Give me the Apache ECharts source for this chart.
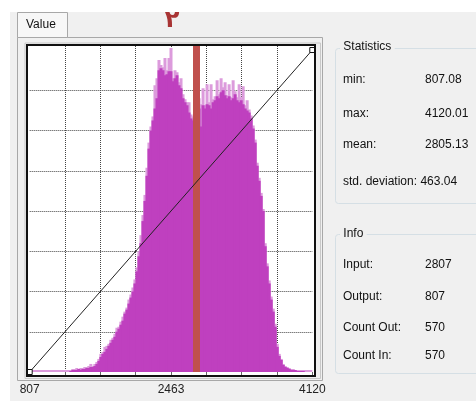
<!DOCTYPE html>
<html>
<head>
<meta charset="utf-8">
<script src="https://cdn.jsdelivr.net/npm/echarts@6/dist/echarts.min.js"></script>
<style>
  html, body { margin: 0; padding: 0; background: #fff; }
  #chart { width: 476px; height: 401px; }
</style>
</head>
<body>
<div id="chart"></div>
<script>
// histogram bins between min and max value (dark = fill, light = spike tops)
const darkCounts = [
  0, 0, 0, 0, 0, 0, 0, 0, 0, 0, 0, 0, 0, 0, 0, 0, 0, 0, 0, 0,
  1, 2, 2, 2, 3, 2, 3, 3, 4, 4, 5, 5, 6, 8, 11, 15, 18, 20, 23, 26,
  29, 32, 35, 40, 43, 47, 51, 58, 62, 68, 74, 80, 88, 100, 115, 128, 150, 170, 195, 222,
  240, 250, 262, 272, 300, 302, 300, 295, 296, 299, 299, 289, 292, 295, 285, 282, 272, 268, 265, 258,
  252, 250, 258, 260, 262, 244, 265, 262, 266, 265, 262, 268, 270, 274, 272, 278, 280, 275, 272, 274,
  270, 272, 276, 270, 268, 270, 266, 262, 260, 258, 252, 242, 228, 205, 190, 175, 160, 125, 105, 88,
  72, 60, 45, 25, 16, 12, 7, 5, 4, 3, 2, 2, 2, 1, 1, 1, 1, 0, 0, 0, 0
];
const lightCounts = [
  2, 2, 2, 2, 2, 2, 2, 2, 2, 2, 2, 2, 2, 2, 2, 2, 2, 2, 2, 2,
  2, 3, 3, 4, 3, 4, 4, 5, 5, 6, 8, 6, 8, 10, 13, 18, 20, 25, 26, 28,
  32, 34, 38, 44, 45, 50, 55, 60, 64, 72, 77, 84, 92, 104, 120, 136, 156, 176, 203, 228,
  244, 254, 285, 292, 310, 305, 303, 312, 300, 312, 322, 292, 300, 298, 288, 292, 276, 271, 268, 268,
  256, 254, 262, 264, 272, 266, 282, 265, 286, 268, 286, 271, 274, 290, 276, 292, 283, 288, 275, 286,
  273, 290, 279, 273, 286, 273, 284, 265, 270, 261, 255, 245, 231, 208, 193, 178, 162, 128, 108, 91,
  75, 63, 48, 28, 18, 13, 8, 6, 5, 4, 3, 3, 2, 2, 2, 2, 2, 2, 2, 2, 2
];
const binIndex = darkCounts.map((_, i) => i);

const xMin = 807.08;
const xMax = 4120.01;
const xTickLabels = ['807', '', '', '', '2463', '', '', '', '4120'];
const mappingLine = [[807.08, 0], [4120.01, 320]];
const inputMarker = 2756;

const statLabels = ['min:', 'max:', 'mean:'];
const statValues = ['807.08', '4120.01', '2805.13'];
const stdLabel = 'std. deviation: 463.04';
const infoLabels = ['Input:', 'Output:', 'Count Out:', 'Count In:'];
const infoValues = ['2807', '807', '570', '570'];

const FONT = '"Liberation Sans", Arial, sans-serif';
const xGridColors = ['rgba(0,0,0,0)', '#444', '#444', '#444', '#444', '#444', '#444', '#444', 'rgba(0,0,0,0)'];
const yGridColors = ['rgba(0,0,0,0)', '#444', '#444', '#444', '#444', '#444', '#444', '#444', 'rgba(0,0,0,0)', 'rgba(0,0,0,0)'];

const txt = (x, y, text, extra) => Object.assign({
  type: 'text', x: x, y: y, z: 20,
  style: { text: text, font: '12px ' + FONT, fill: '#111', verticalAlign: 'middle' }
}, extra || {});

const graphics = [
  // window background
  { type: 'rect', shape: { x: 10, y: 12, width: 466, height: 389 }, style: { fill: '#f0f0f0' }, z: -20 },
  // tab page
  { type: 'rect', shape: { x: 17.5, y: 37.5, width: 305, height: 343 }, style: { fill: '#f0f0f0', stroke: '#a8a8a8', lineWidth: 1 }, z: -19 },
  { type: 'rect', shape: { x: 17.5, y: 12.5, width: 50, height: 25 }, style: { fill: '#f7f7f7', stroke: '#a8a8a8', lineWidth: 1 }, z: -18 },
  txt(26, 25, 'Value'),
  // plot frame
  { type: 'rect', shape: { x: 27, y: 45, width: 288, height: 331 }, style: { fill: '#fff' }, z: -17 },
  { type: 'rect', shape: { x: 27, y: 45, width: 288, height: 331 }, style: { fill: 'none', stroke: '#111', lineWidth: 2 }, z: 30 },
  { type: 'rect', shape: { x: 25, y: 43, width: 295.5, height: 335.5 }, style: { fill: 'none', stroke: '#c8c8c8', lineWidth: 1 }, z: 29 },
  // red mark above the plot
  { type: 'text', x: 172, y: 21, z: 20, style: { text: '۲', font: 'bold 24px "DejaVu Sans", sans-serif', fill: '#a83434', align: 'center', verticalAlign: 'middle' } },
  // group boxes
  { type: 'rect', shape: { x: 335.5, y: 48.5, width: 160, height: 155, r: 3 }, style: { fill: 'none', stroke: '#d5dfe5', lineWidth: 1 }, z: -16 },
  { type: 'rect', shape: { x: 335.5, y: 234.5, width: 160, height: 139, r: 3 }, style: { fill: 'none', stroke: '#d5dfe5', lineWidth: 1 }, z: -16 },
  txt(340, 47, ' Statistics ', { style: { text: ' Statistics ', font: '12px ' + FONT, fill: '#111', verticalAlign: 'middle', backgroundColor: '#f0f0f0' } }),
  txt(340, 234, ' Info ', { style: { text: ' Info ', font: '12px ' + FONT, fill: '#111', verticalAlign: 'middle', backgroundColor: '#f0f0f0' } }),
  txt(343, 182, stdLabel)
];
const statY = [80, 114, 145];
statLabels.forEach((l, i) => {
  graphics.push(txt(343, statY[i], l));
  graphics.push(txt(425, statY[i], statValues[i]));
});
const infoY = [265, 297, 328, 356];
infoLabels.forEach((l, i) => {
  graphics.push(txt(343, infoY[i], l));
  graphics.push(txt(425, infoY[i], infoValues[i]));
});

const chart = echarts.init(document.getElementById('chart'));
chart.setOption({
  backgroundColor: 'transparent',
  animation: false,
  grid: { left: 29.7, right: 163.7, top: 46, bottom: 29, show: false },
  xAxis: [
    {
      type: 'value',
      min: xMin,
      max: xMax,
      interval: (xMax - xMin) / 8,
      axisLine: { show: false },
      axisTick: { show: true, length: 3, lineStyle: { color: '#666' } },
      axisLabel: {
        margin: 12,
        color: '#222',
        fontFamily: FONT,
        fontSize: 12,
        formatter: (v, i) => xTickLabels[i] || ''
      },
      splitLine: { show: true, lineStyle: { color: xGridColors, type: [1, 1], width: 1 } }
    },
    {
      type: 'category',
      data: binIndex,
      show: false
    }
  ],
  yAxis: {
    type: 'value',
    min: 0,
    max: 324,
    interval: 40,
    axisLine: { show: false },
    axisTick: { show: false },
    axisLabel: { show: false },
    splitLine: { show: true, lineStyle: { color: yGridColors, type: [1, 1], width: 1 } }
  },
  graphic: graphics,
  series: [
    {
      name: 'light',
      type: 'bar',
      xAxisIndex: 1,
      data: lightCounts,
      barWidth: 3,
      barGap: '-100%',
      itemStyle: { color: '#dc9bdc' },
      z: 2
    },
    {
      name: 'dark',
      type: 'bar',
      xAxisIndex: 1,
      data: darkCounts,
      barWidth: 3,
      barGap: '-100%',
      itemStyle: { color: '#bf40bf' },
      z: 3
    },
    {
      name: 'input',
      type: 'line',
      xAxisIndex: 0,
      data: [],
      z: 4,
      markLine: {
        silent: true,
        symbol: ['none', 'none'],
        label: { show: false },
        lineStyle: { color: '#c0504d', width: 7, type: 'solid', opacity: 1 },
        data: [{ xAxis: inputMarker }]
      }
    },
    {
      name: 'mapping',
      type: 'line',
      xAxisIndex: 0,
      data: mappingLine,
      symbol: 'rect',
      symbolSize: 5,
      lineStyle: { color: '#222', width: 1 },
      itemStyle: { color: '#fff', borderColor: '#111', borderWidth: 1 },
      z: 5
    }
  ]
});
</script>
</body>
</html>
